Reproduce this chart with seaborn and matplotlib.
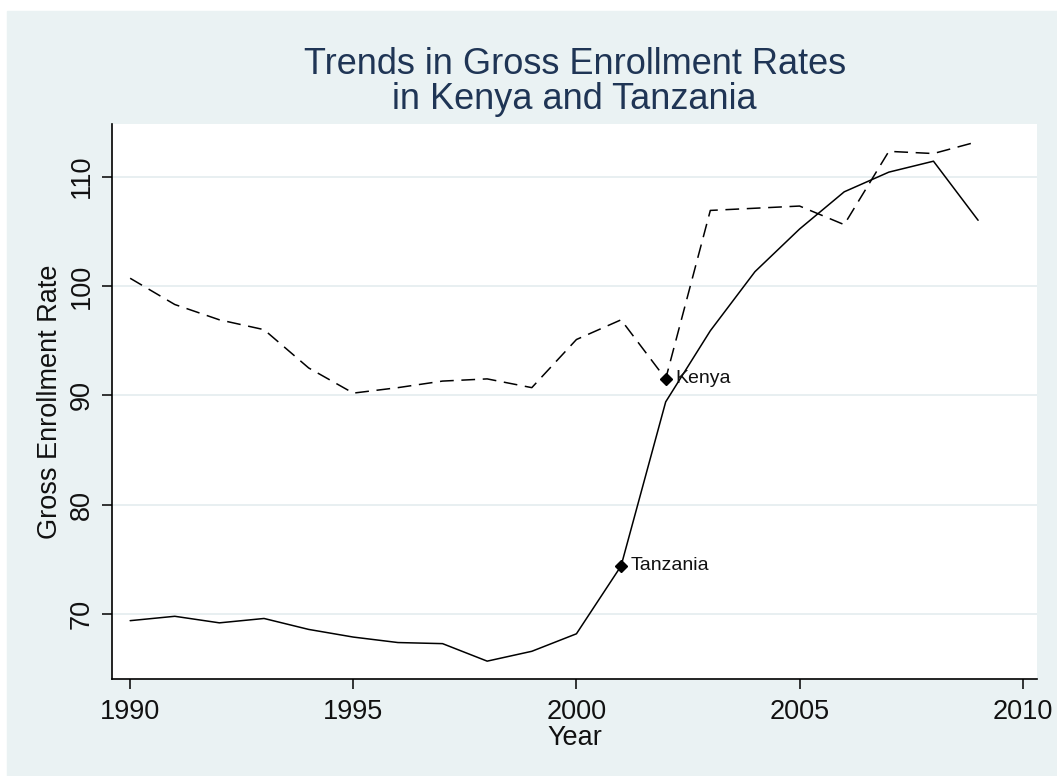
import numpy as np
import pandas as pd
import matplotlib.pyplot as plt
import matplotlib.patches as patches
import seaborn as sns

# gross enrollment rates
years = list(range(1990, 2010))
kenya = [100.7, 98.3, 96.9, 96.0, 92.5, 90.2, 90.7, 91.3, 91.5, 90.7,
         95.1, 96.9, 91.5, 106.9, 107.1, 107.3, 105.6, 112.3, 112.1, 113.2]
tanzania = [69.4, 69.8, 69.2, 69.6, 68.6, 67.9, 67.4, 67.3, 65.7, 66.6,
            68.2, 74.4, 89.4, 95.9, 101.3, 105.2, 108.6, 110.4, 111.4, 106.0]
countries = ["Kenya", "Tanzania"]
label_years = [2002, 2001]
x_ticks = [1990, 1995, 2000, 2005, 2010]
y_ticks = [70, 80, 90, 100, 110]

df = pd.DataFrame({
    "Year": years * 2,
    "rate": kenya + tanzania,
    "country": ["Kenya"] * len(years) + ["Tanzania"] * len(years),
})

sns.set_theme(style="white")
plt.rcParams["font.family"] = ["Liberation Sans", "DejaVu Sans"]

bg = "#eaf2f3"
fig = plt.figure(figsize=(10.57, 7.76), dpi=100, facecolor="white")
fig.patches.append(patches.Rectangle((7 / 1057, 0), 1, (776 - 11) / 776,
                                     transform=fig.transFigure, color=bg, zorder=-10))
ax = fig.add_axes([112.3 / 1057, (776 - 679.3) / 776, (1037 - 112.3) / 1057, (679.3 - 124) / 776])
ax.set_facecolor("white")

sns.lineplot(data=df, x="Year", y="rate", style="country",
             dashes={"Kenya": (9, 5), "Tanzania": ""}, color="black",
             lw=1.1, legend=False, ax=ax)

# labelled marker on each series
for name, yr in zip(countries, label_years):
    vals = kenya if name == "Kenya" else tanzania
    v = vals[years.index(yr)]
    ax.plot(yr, v, marker="D", ms=6.5, color="black", zorder=5)
    ax.annotate(name, (yr, v), xytext=(7, 0), textcoords="offset points",
                va="center", ha="left", fontsize=14, color="#111111")

ax.set_xlim(1989.6, 2010.32)
ax.set_ylim(64.04, 114.8)
ax.set_xticks(x_ticks)
ax.set_yticks(y_ticks)
ax.set_yticklabels([str(t) for t in y_ticks], rotation=90, va="center")
ax.yaxis.grid(True, color="#e6eef0", lw=1.3)
ax.xaxis.grid(False)

for s in ["top", "right"]:
    ax.spines[s].set_visible(False)
for s in ["left", "bottom"]:
    ax.spines[s].set_color("black")
    ax.spines[s].set_linewidth(1.2)

ax.tick_params(axis="both", direction="out", length=7.5, width=1.1, color="black",
               labelsize=19.5, labelcolor="#111111", left=True, bottom=True)
ax.tick_params(axis="y", pad=5)
ax.tick_params(axis="x", pad=7)

ax.set_xlabel("Year", fontsize=19.5, color="#111111", labelpad=0)
ax.set_ylabel("Gross Enrollment Rate", fontsize=19.5, color="#111111", labelpad=4)
ax.set_title("Trends in Gross Enrollment Rates\nin Kenya and Tanzania",
             fontsize=26, color="#1f3555", pad=11, linespacing=0.98)

fig.savefig("out.png", dpi=100, facecolor=fig.get_facecolor())
